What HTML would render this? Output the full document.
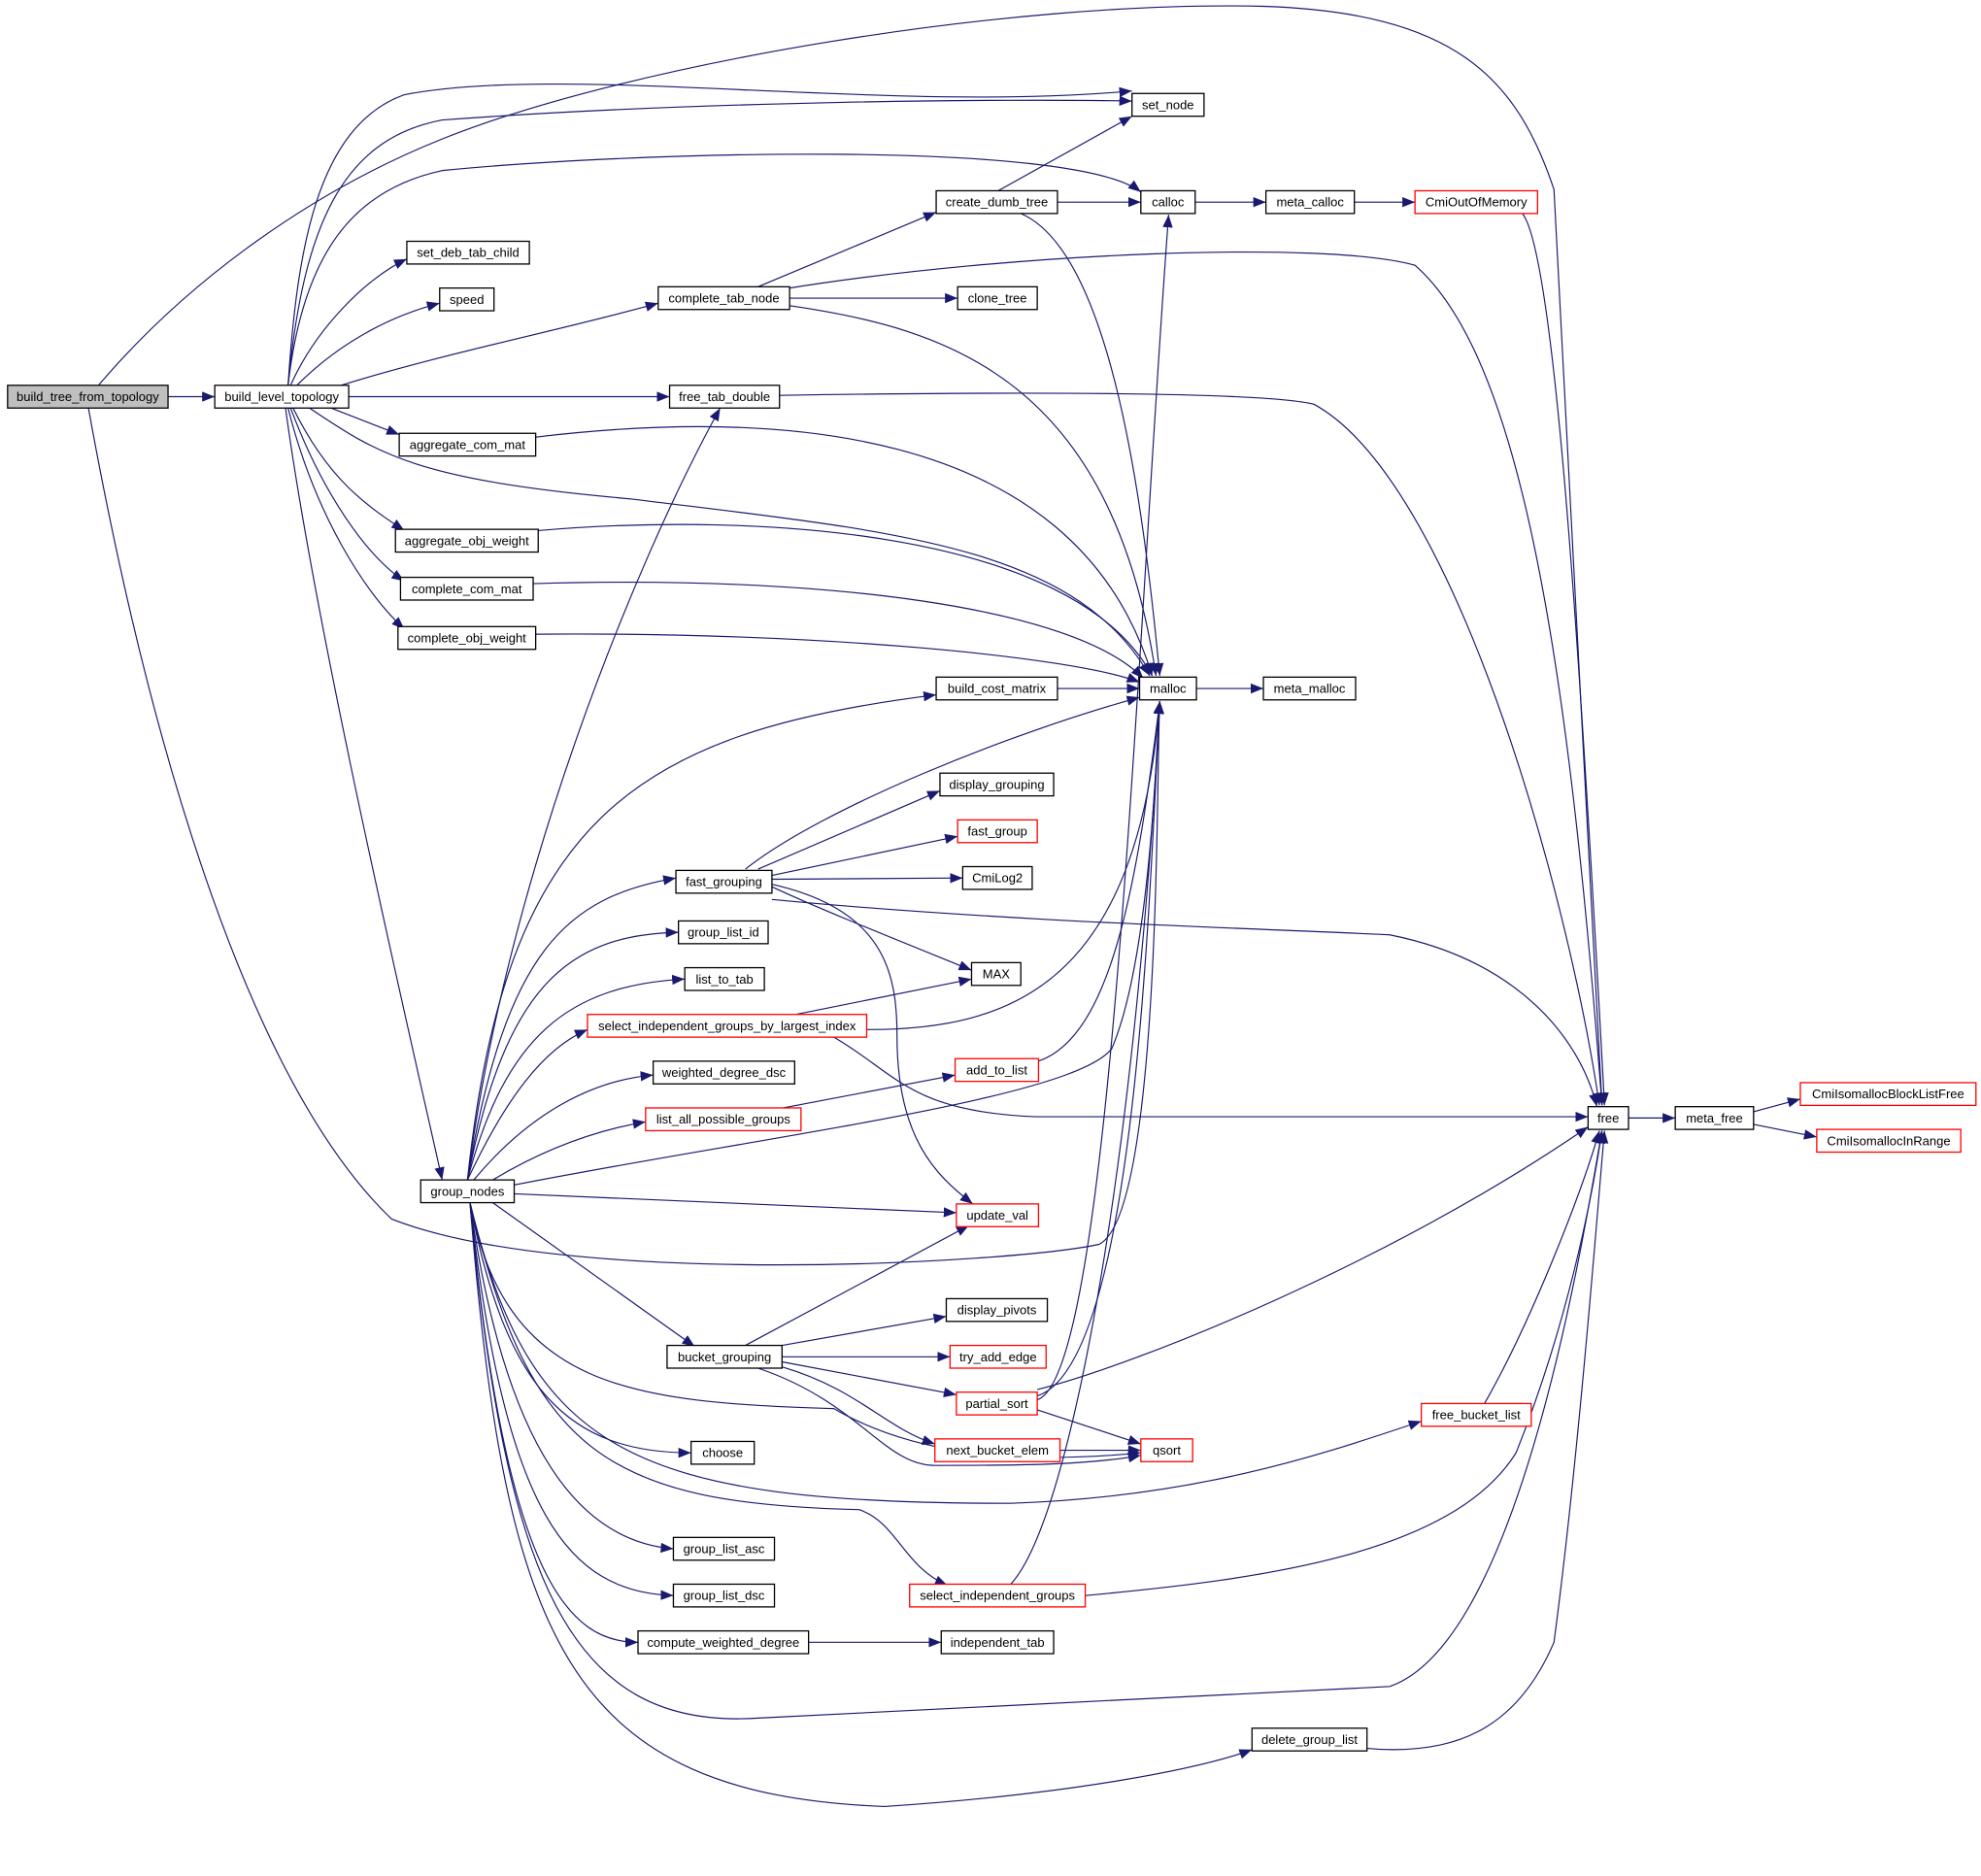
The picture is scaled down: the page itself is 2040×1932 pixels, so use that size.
<!DOCTYPE html>
<html><head><meta charset="utf-8"><style>
html,body{margin:0;padding:0;background:#fff;}
svg{display:block;}
text{font-family:"Liberation Sans",sans-serif;font-size:10px;fill:#000;text-anchor:middle;dominant-baseline:central;}
.e{fill:none;stroke:#191970;stroke-width:0.9;}
.n{fill:#fff;stroke:#000;stroke-width:1;}
.r{fill:#fff;stroke:#f00;stroke-width:1;}
</style></head><body>
<svg width="2040" height="1932" viewBox="0 0 1568 1485" xmlns="http://www.w3.org/2000/svg">
<defs><marker id="a" markerWidth="10" markerHeight="8" refX="10" refY="4" orient="auto" markerUnits="userSpaceOnUse"><path d="M0,0 L10,4 L0,8 Z" fill="#191970"/></marker></defs>
<g class="e" marker-end="url(#a)">
<path d="M133,314 L170,314"/>
<path d="M78,305 C150,220 250,150 350,110 C500,50 800,0 1000,5 C1150,10 1200,60 1230,150 C1245,400 1258,650 1268,875"/>
<path d="M228,305 C235,200 250,100 320,75 C450,50 700,90 896,72"/>
<path d="M228,305 C240,180 270,110 350,95 C550,80 800,78 896,80"/>
<path d="M228,305 C240,200 280,150 350,135 C500,120 850,110 903,152"/>
<path d="M230,305 C250,260 290,220 322,205"/>
<path d="M235,305 C270,270 310,250 348,240"/>
<path d="M270,305 C350,280 450,260 521,240"/>
<path d="M276,314 L530,314"/>
<path d="M262,323 L316,344"/>
<path d="M245,323 C300,360 330,380 500,395 C700,420 850,430 910,535"/>
<path d="M232,323 C260,380 290,400 320,420"/>
<path d="M230,323 C255,390 290,440 320,460"/>
<path d="M228,323 C250,410 290,470 320,498"/>
<path d="M226,323 C250,500 320,800 350,934"/>
<path d="M70,323 C120,600 200,860 310,965 C450,1020 800,1000 870,985 C920,960 915,600 918,555"/>
<path d="M600,227 L741,168"/>
<path d="M625,236 L758,236"/>
<path d="M625,242 C750,260 880,300 915,535"/>
<path d="M625,228 C800,200 1050,190 1120,210 C1200,280 1240,500 1268,875"/>
<path d="M790,151 L896,92"/>
<path d="M837,160 L903,160"/>
<path d="M808,169 C880,200 905,400 918,535"/>
<path d="M946,160 L1002,160"/>
<path d="M1072,160 L1120,160"/>
<path d="M1205,169 C1230,200 1250,500 1270,875"/>
<path d="M617,313 C800,310 1000,310 1040,320 C1150,380 1240,700 1266,875"/>
<path d="M424,346 C600,325 850,330 912,535"/>
<path d="M426,420 C600,405 850,420 912,535"/>
<path d="M422,462 C650,455 850,480 905,537"/>
<path d="M424,502 C650,500 850,520 902,540"/>
<path d="M837,545 L902,545"/>
<path d="M947,545 L1000,545"/>
<path d="M1289,885 L1326,885"/>
<path d="M1388,880 L1425,870"/>
<path d="M1388,890 L1438,900"/>
<path d="M370,934 C400,700 500,450 570,323"/>
<path d="M370,934 C400,650 500,580 741,550"/>
<path d="M370,934 C400,750 450,710 535,695"/>
<path d="M370,934 C400,780 450,740 537,738"/>
<path d="M370,934 C400,820 450,780 542,775"/>
<path d="M370,934 C400,870 430,830 465,815"/>
<path d="M375,934 C420,880 470,855 517,851"/>
<path d="M390,934 C430,910 470,895 511,888"/>
<path d="M407,938 C600,900 850,870 880,830 C910,760 915,600 918,555"/>
<path d="M407,945 L757,960"/>
<path d="M390,952 L550,1066"/>
<path d="M372,952 C400,1100 500,1110 660,1115 C720,1150 800,1160 903,1150"/>
<path d="M372,952 C400,1100 450,1150 547,1150"/>
<path d="M372,952 C420,1150 500,1190 800,1190 C950,1185 1050,1150 1125,1125"/>
<path d="M372,952 C420,1150 480,1190 680,1195 C710,1205 715,1240 750,1255"/>
<path d="M372,952 C400,1150 460,1220 533,1226"/>
<path d="M372,952 C400,1200 450,1260 533,1263"/>
<path d="M372,952 C400,1250 450,1300 505,1300"/>
<path d="M372,952 C400,1250 450,1370 600,1360 C800,1350 1000,1340 1100,1335 C1200,1300 1250,1000 1268,895"/>
<path d="M372,952 C400,1300 450,1420 700,1430 C850,1420 950,1400 991,1385"/>
<path d="M590,688 C650,640 800,580 902,552"/>
<path d="M600,688 L744,626"/>
<path d="M611,693 L758,662"/>
<path d="M611,696 L762,695"/>
<path d="M611,702 C650,720 700,740 769,768"/>
<path d="M611,712 C800,730 1000,735 1100,740 C1200,760 1250,820 1264,876"/>
<path d="M611,700 C700,720 710,770 710,820 C710,900 740,930 770,953"/>
<path d="M630,803 L769,775"/>
<path d="M686,815 C800,815 900,780 918,555"/>
<path d="M660,821 C710,850 720,880 820,884 L1257,884"/>
<path d="M822,840 C880,820 900,700 918,555"/>
<path d="M620,877 L756,851"/>
<path d="M590,1065 L767,970"/>
<path d="M619,1065 L749,1042"/>
<path d="M619,1074 L752,1074"/>
<path d="M619,1078 L757,1104"/>
<path d="M619,1082 C680,1100 700,1130 740,1143"/>
<path d="M600,1083 C680,1110 700,1160 740,1160 C800,1160 860,1160 903,1152"/>
<path d="M821,1105 C900,1080 910,700 918,555"/>
<path d="M821,1108 C880,1090 900,500 925,170"/>
<path d="M821,1116 L903,1143"/>
<path d="M821,1100 C900,1080 1100,1000 1257,892"/>
<path d="M839,1148 L903,1148"/>
<path d="M1175,1111 C1210,1050 1250,950 1266,895"/>
<path d="M800,1254 C850,1200 900,900 918,555"/>
<path d="M859,1263 C1000,1250 1150,1230 1200,1150 C1240,1050 1260,950 1268,895"/>
<path d="M640,1300 L745,1300"/>
<path d="M1082,1384 C1150,1390 1200,1370 1230,1300 C1250,1150 1265,950 1270,895"/>
</g>
<g>
<rect x="6" y="305" width="127" height="18" fill="#bfbfbf" stroke="#000"/><text x="69.5" y="314">build_tree_from_topology</text>
<rect class="n" x="170" y="305" width="106" height="18"/><text x="223" y="314">build_level_topology</text>
<rect class="n" x="896" y="74" width="57" height="18"/><text x="924.5" y="83">set_node</text>
<rect class="n" x="322" y="191" width="97" height="18"/><text x="370.5" y="200">set_deb_tab_child</text>
<rect class="n" x="348" y="228" width="43" height="18"/><text x="369.5" y="237">speed</text>
<rect class="n" x="521" y="227" width="104" height="18"/><text x="573" y="236">complete_tab_node</text>
<rect class="n" x="741" y="151" width="96" height="18"/><text x="789" y="160">create_dumb_tree</text>
<rect class="n" x="903" y="151" width="43" height="18"/><text x="924.5" y="160">calloc</text>
<rect class="n" x="1002" y="151" width="70" height="18"/><text x="1037" y="160">meta_calloc</text>
<rect class="r" x="1120" y="151" width="97" height="18"/><text x="1168.5" y="160">CmiOutOfMemory</text>
<rect class="n" x="758" y="227" width="63" height="18"/><text x="789.5" y="236">clone_tree</text>
<rect class="n" x="530" y="305" width="87" height="18"/><text x="573.5" y="314">free_tab_double</text>
<rect class="n" x="316" y="343" width="108" height="18"/><text x="370" y="352">aggregate_com_mat</text>
<rect class="n" x="313" y="419" width="113" height="18"/><text x="369.5" y="428">aggregate_obj_weight</text>
<rect class="n" x="317" y="457" width="105" height="18"/><text x="369.5" y="466">complete_com_mat</text>
<rect class="n" x="315" y="496" width="109" height="18"/><text x="369.5" y="505">complete_obj_weight</text>
<rect class="n" x="741" y="536" width="96" height="18"/><text x="789" y="545">build_cost_matrix</text>
<rect class="n" x="902" y="536" width="45" height="18"/><text x="924.5" y="545">malloc</text>
<rect class="n" x="1000" y="536" width="73" height="18"/><text x="1036.5" y="545">meta_malloc</text>
<rect class="n" x="744" y="612" width="90" height="18"/><text x="789" y="621">display_grouping</text>
<rect class="r" x="758" y="649" width="63" height="18"/><text x="789.5" y="658">fast_group</text>
<rect class="n" x="762" y="686" width="55" height="18"/><text x="789.5" y="695">CmiLog2</text>
<rect class="n" x="535" y="689" width="76" height="18"/><text x="573" y="698">fast_grouping</text>
<rect class="n" x="537" y="729" width="71" height="18"/><text x="572.5" y="738">group_list_id</text>
<rect class="n" x="769" y="762" width="39" height="18"/><text x="788.5" y="771">MAX</text>
<rect class="n" x="542" y="766" width="63" height="18"/><text x="573.5" y="775">list_to_tab</text>
<rect class="r" x="465" y="803" width="221" height="18"/><text x="575.5" y="812">select_independent_groups_by_largest_index</text>
<rect class="n" x="517" y="840" width="112" height="18"/><text x="573" y="849">weighted_degree_dsc</text>
<rect class="r" x="756" y="838" width="66" height="18"/><text x="789" y="847">add_to_list</text>
<rect class="r" x="511" y="877" width="123" height="18"/><text x="572.5" y="886">list_all_possible_groups</text>
<rect class="n" x="1257" y="876" width="32" height="18"/><text x="1273" y="885">free</text>
<rect class="n" x="1326" y="876" width="62" height="18"/><text x="1357" y="885">meta_free</text>
<rect class="r" x="1425" y="857" width="139" height="18"/><text x="1494.5" y="866">CmiIsomallocBlockListFree</text>
<rect class="r" x="1438" y="894" width="114" height="18"/><text x="1495" y="903">CmiIsomallocInRange</text>
<rect class="n" x="333" y="934" width="74" height="18"/><text x="370" y="943">group_nodes</text>
<rect class="r" x="757" y="953" width="65" height="18"/><text x="789.5" y="962">update_val</text>
<rect class="n" x="749" y="1028" width="80" height="18"/><text x="789" y="1037">display_pivots</text>
<rect class="n" x="528" y="1065" width="91" height="18"/><text x="573.5" y="1074">bucket_grouping</text>
<rect class="r" x="752" y="1065" width="76" height="18"/><text x="790" y="1074">try_add_edge</text>
<rect class="r" x="757" y="1102" width="64" height="18"/><text x="789" y="1111">partial_sort</text>
<rect class="r" x="1125" y="1111" width="87" height="18"/><text x="1168.5" y="1120">free_bucket_list</text>
<rect class="r" x="740" y="1139" width="99" height="18"/><text x="789.5" y="1148">next_bucket_elem</text>
<rect class="r" x="903" y="1139" width="41" height="18"/><text x="923.5" y="1148">qsort</text>
<rect class="n" x="547" y="1141" width="50" height="18"/><text x="572" y="1150">choose</text>
<rect class="n" x="533" y="1217" width="80" height="18"/><text x="573" y="1226">group_list_asc</text>
<rect class="r" x="720" y="1254" width="139" height="18"/><text x="789.5" y="1263">select_independent_groups</text>
<rect class="n" x="533" y="1254" width="80" height="18"/><text x="573" y="1263">group_list_dsc</text>
<rect class="n" x="505" y="1291" width="135" height="18"/><text x="572.5" y="1300">compute_weighted_degree</text>
<rect class="n" x="745" y="1291" width="89" height="18"/><text x="789.5" y="1300">independent_tab</text>
<rect class="n" x="991" y="1368" width="91" height="18"/><text x="1036.5" y="1377">delete_group_list</text>
</g>
</svg>
</body></html>
